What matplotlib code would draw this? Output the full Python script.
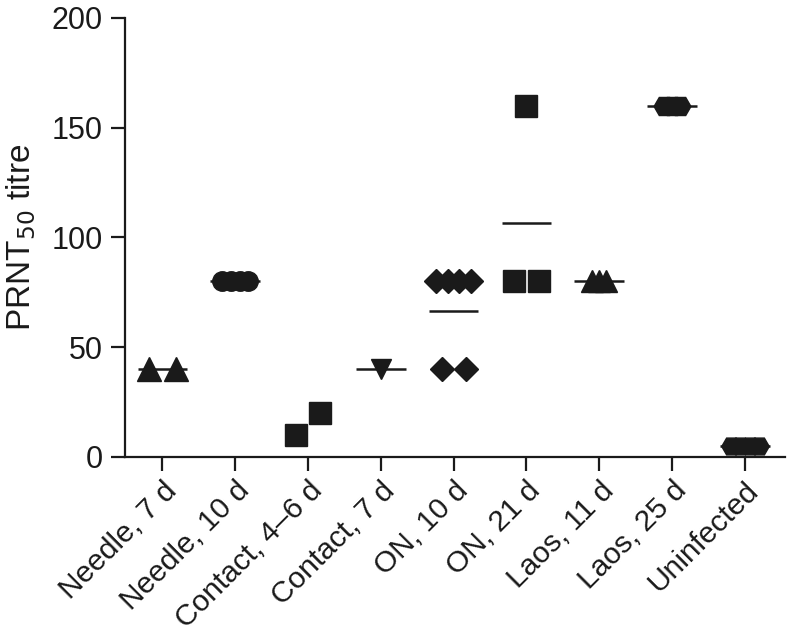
import matplotlib
matplotlib.use("Agg")
import matplotlib.pyplot as plt
import numpy as np

plt.rcParams['font.family'] = ['Liberation Sans', 'DejaVu Sans']

categories = ["Needle, 7 d", "Needle, 10 d", "Contact, 4\u20136 d", "Contact, 7 d",
              "ON, 10 d", "ON, 21 d", "Laos, 11 d", "Laos, 25 d", "Uninfected"]
needle_7d = [40, 40]
needle_10d = [80, 80, 80, 80]
contact_4_6d = [10, 20]
contact_7d = [40]
on_10d = [80, 80, 80, 80, 40, 40]
on_21d = [80, 80, 160]
laos_11d = [80, 80, 80]
laos_25d = [160, 160, 160]
uninfected = [5, 5, 5, 5]
groups = [needle_7d, needle_10d, contact_4_6d, contact_7d, on_10d, on_21d,
          laos_11d, laos_25d, uninfected]
show_mean = [True, True, False, True, True, True, True, True, True]

markers = ['^', 'o', 's', 'v', 'D', 's', '^', 'H', 'H']
msizes = [17, 14, 16, 15, 12, 16, 16, 15, 14]
spacing = [0.36, 0.12, 0.33, 0.33, 0.16, 0.34, 0.10, 0.11, 0.13]

fig = plt.figure(figsize=(7.88, 6.40), dpi=100)
ax = fig.add_axes([0.159, 0.286, 0.837, 0.686])

for i, vals in enumerate(groups):
    vals = np.array(vals, dtype=float)
    for v in np.unique(vals):
        n = int(np.sum(vals == v))
        sp = spacing[i]
        if i == 4 and v == 40:
            sp = 0.33
        offs = (np.arange(n) - (n - 1) / 2) * sp
        if i == 2:
            offs = np.array([-0.17]) if v == 10 else np.array([0.16])
        ax.plot(i + offs, np.full(n, v), linestyle='none', marker=markers[i],
                markersize=msizes[i], color='#1a1a1a', markeredgecolor='#1a1a1a',
                zorder=3)
    if show_mean[i]:
        ax.hlines(vals.mean(), i - 0.34, i + 0.34, color='#1a1a1a', lw=1.8, zorder=2)

ax.set_xlim(-0.51, 8.55)
ax.set_ylim(0, 200)
ax.set_yticks([0, 50, 100, 150, 200])
ax.set_xticks(range(len(categories)))
ax.set_xticklabels(categories, rotation=45, ha='right', rotation_mode='anchor')
ax.spines['top'].set_visible(False)
ax.spines['right'].set_visible(False)
for s in ['left', 'bottom']:
    ax.spines[s].set_linewidth(1.6)
ax.tick_params(axis='both', direction='out', length=10, width=1.6, labelsize=22,
               pad=6, colors='#1a1a1a')
ax.tick_params(axis='x', labelsize=21.5, pad=4)
ax.set_ylabel('PRNT$_{50}$ titre', fontsize=24, labelpad=10, color='#1a1a1a')
for sp_ in ax.spines.values():
    sp_.set_clip_on(False)
    sp_.set_color('#1a1a1a')

fig.savefig('out.png', dpi=100)
